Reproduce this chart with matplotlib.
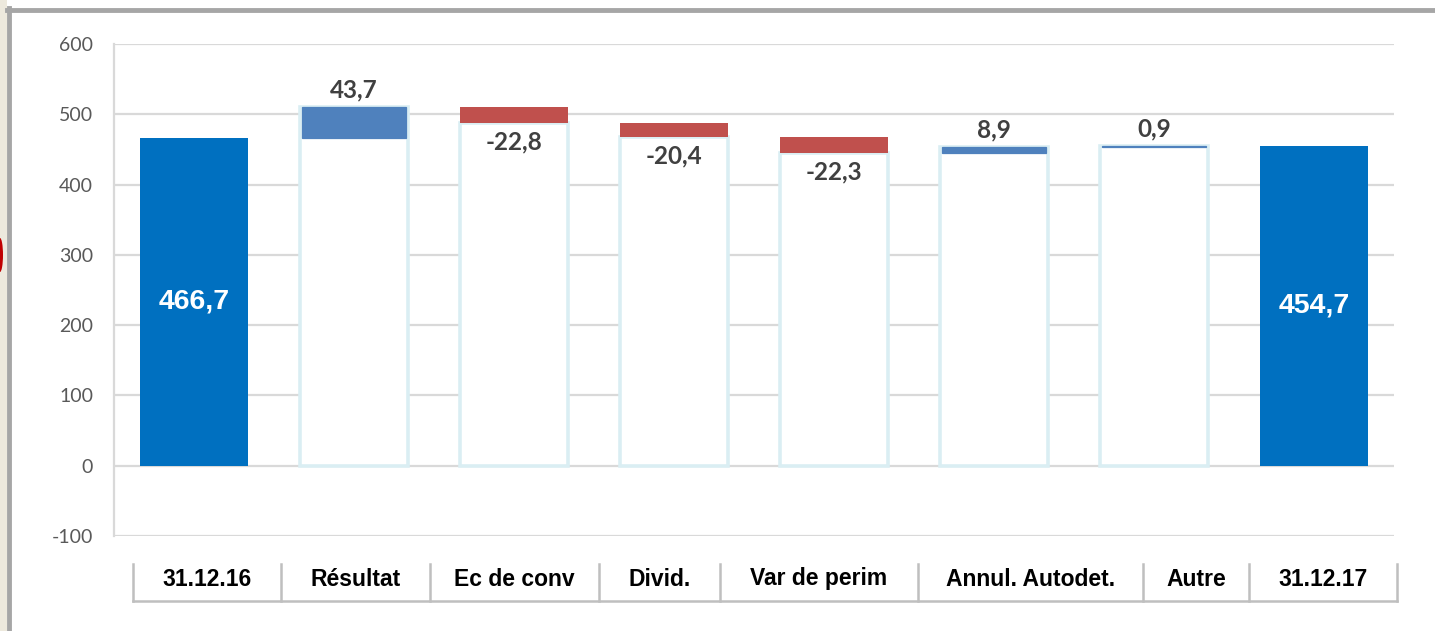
import matplotlib.pyplot as plt
import matplotlib.patches as mpatches
import numpy as np

# --- data ---------------------------------------------------------------
categories = ["31.12.16", "Résultat", "Ec de conv", "Divid.", "Var de perim",
              "Annul. Autodet.", "Autre", "31.12.17"]
start_total = 466.7
end_total = 454.7
deltas = [43.7, -22.8, -20.4, -22.3, 8.9, 0.9]
y_ticks = [-100, 0, 100, 200, 300, 400, 500, 600]

# separators of the category row (pixel x in the reference layout)
row_edges = [133, 281, 430, 599, 720, 918, 1143, 1249, 1397]

TOTAL_BLUE = "#0070C0"
UP_BLUE = "#4F81BD"
DOWN_RED = "#C0504D"
GHOST_EDGE = "#DAEEF3"
GRID = "#D9D9D9"
LABEL_GRAY = "#404040"


def fmt(v):
    return f"{v:.1f}".replace(".", ",")


W, H = 1435, 631
fig = plt.figure(figsize=(W / 100, H / 100), dpi=100)
fig.patch.set_facecolor("white")

# left background strip + frame of the slide
fig.patches.append(mpatches.Rectangle((0, 0), 7 / W, 1, transform=fig.transFigure,
                                      facecolor="#EDE9DD", edgecolor="none", zorder=0))
fig.patches.append(mpatches.Ellipse((0, 1 - 255 / H), 6 / W, 34 / H, transform=fig.transFigure,
                                    facecolor="#C00000", edgecolor="none", zorder=1))
fig.lines.append(plt.Line2D([9 / W, 9 / W], [0, 1 - 8 / H], transform=fig.transFigure,
                            color="#A6A6A6", lw=3.5))
fig.lines.append(plt.Line2D([7 / W, 1], [1 - 10 / H, 1 - 10 / H], transform=fig.transFigure,
                            color="#A6A6A6", lw=3.5))

ax = fig.add_axes([114 / W, 1 - 536 / H, 1280 / W, 492 / H])
x = np.arange(len(categories))
bar_w = 0.67

# running levels
levels = np.concatenate([[start_total], start_total + np.cumsum(deltas)])

# totals
ax.bar([0, len(categories) - 1], [start_total, end_total], width=bar_w,
       color=TOTAL_BLUE, zorder=3)

for i, d in enumerate(deltas, start=1):
    prev, cur = levels[i - 1], levels[i]
    lo, hi = min(prev, cur), max(prev, cur)
    if d >= 0:
        # pale outline around the whole column, blue step on top
        ax.bar(i, hi, width=bar_w, color="white", edgecolor=GHOST_EDGE, linewidth=2.6, zorder=3)
        ax.bar(i, hi - lo, bottom=lo, width=bar_w * 0.97, color=UP_BLUE,
               edgecolor=UP_BLUE, linewidth=0.9, zorder=4)
        ax.annotate(fmt(d), (i, hi), xytext=(0, 4), textcoords="offset points",
                    ha="center", va="bottom", fontsize=17.5, fontweight="bold",
                    color=LABEL_GRAY, family="Lato", zorder=5)
    else:
        ax.bar(i, lo, width=bar_w, color="white", edgecolor=GHOST_EDGE, linewidth=2.6, zorder=3)
        ax.bar(i, hi - lo, bottom=lo, width=bar_w, color=DOWN_RED,
               edgecolor="none", zorder=4)
        ax.annotate(fmt(d), (i, lo), xytext=(0, -5), textcoords="offset points",
                    ha="center", va="top", fontsize=17.5, fontweight="bold",
                    color=LABEL_GRAY, family="Lato", zorder=5)

for xi, v in [(0, start_total), (len(categories) - 1, end_total)]:
    ax.text(xi, v / 2, fmt(v), ha="center", va="center", color="white",
            fontsize=20.5, fontweight="bold", family="Liberation Sans", zorder=5)

ax.set_xlim(-0.5, len(categories) - 0.5)
ax.set_ylim(-100, 600)
ax.set_yticks(y_ticks)
ax.set_yticklabels([str(t) for t in y_ticks], color="#595959", fontsize=14, family="Lato")
ax.tick_params(axis="y", length=0, pad=15)
ax.set_xticks([])
ax.yaxis.grid(True, color=GRID, linewidth=1.6, zorder=0)
ax.set_axisbelow(True)
for side in ["top", "right", "bottom"]:
    ax.spines[side].set_visible(False)
ax.spines["left"].set_color(GRID)
ax.spines["left"].set_linewidth(1.6)

# category row drawn like a table below the plot
row_top, row_bot = 1 - 564 / H, 1 - 601 / H
fig.lines.append(plt.Line2D([row_edges[0] / W, row_edges[-1] / W], [row_bot, row_bot],
                            transform=fig.transFigure, color="#BFBFBF", lw=1.8))
for e in row_edges:
    fig.lines.append(plt.Line2D([e / W, e / W], [row_bot, row_top],
                                transform=fig.transFigure, color="#BFBFBF", lw=1.8))
for name, l, r in zip(categories, row_edges[:-1], row_edges[1:]):
    fig.text((l + r) / 2 / W, 1 - 579 / H, name, ha="center", va="center",
             fontsize=16.5, fontweight="bold", family="Liberation Sans", color="black")

fig.savefig("out.png", dpi=100)
